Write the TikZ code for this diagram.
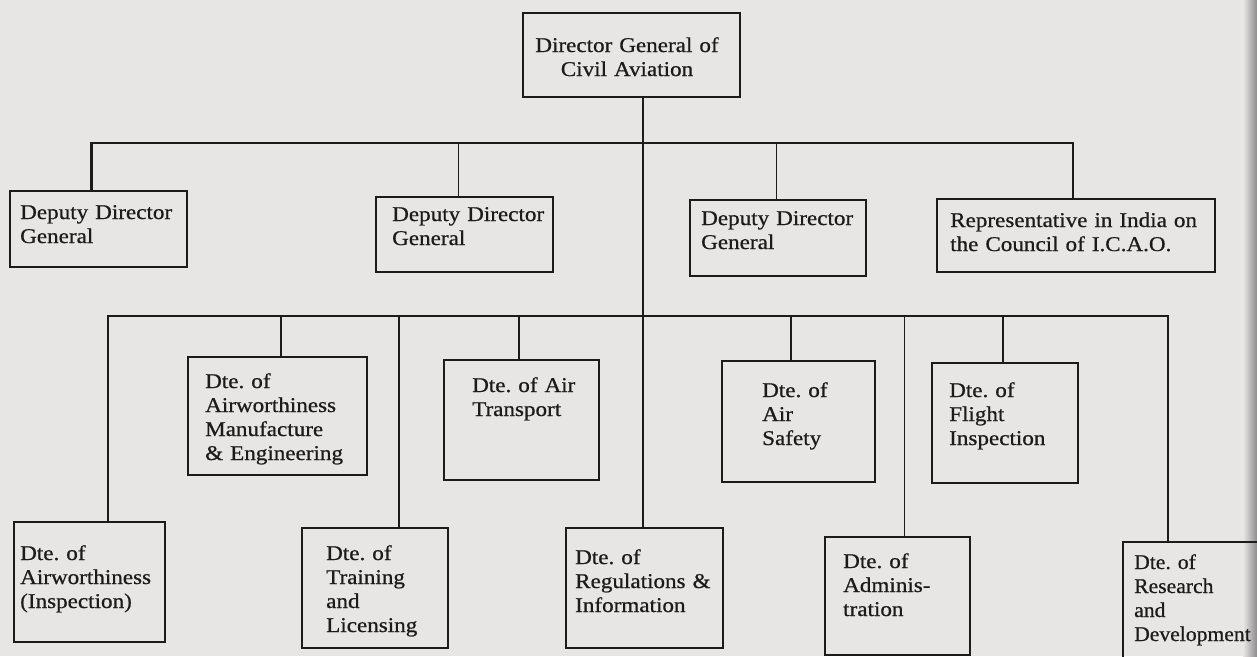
\documentclass[tikz,border=0pt]{standalone}
\usepackage{fontspec}
\setmainfont{Liberation Serif}[FakeStretch=1.1,FakeBold=0.7]
\newfontfamily\narrowserif{Liberation Serif}[FakeStretch=1.03,FakeBold=0.7]
\definecolor{paper}{RGB}{232,229,229}
\definecolor{ink}{RGB}{28,26,26}
\newcommand\orgbox[5]{\node[box,minimum width={(#4-#2)*1pt},minimum height={(#5-#3)*1pt}] (#1) at ({(#2+#4)/2},{(#3+#5)/2}) {};}
\frenchspacing
\begin{document}
\frenchspacing
\begin{tikzpicture}[x=1pt,y=-1pt,
  box/.style={draw=ink,line width=2.6pt,inner sep=0pt,outer sep=0pt,rectangle},
  txt/.style={inner sep=0pt,text=ink,text width=270pt,align=left,anchor=base west,font=\fontsize{21}{24}\selectfont},
  conn/.style={draw=ink,line width=1.8pt},
  bus/.style={draw=ink,line width=2.6pt}]
\useasboundingbox (0,0) rectangle (1257,656);
\fill[paper] (0,0) rectangle (1257,656);
\clip (0,0) rectangle (1257,656);
\shade[left color=paper,right color=black!45] (1243,0) rectangle (1257,656);

% boxes
\orgbox{dg}{523}{13}{740}{97}
\orgbox{ddgA}{10}{191}{187}{267}
\orgbox{ddgB}{376}{197}{553}{272}
\orgbox{ddgC}{690}{200}{866}{276}
\orgbox{rep}{937}{199}{1215}{272}
\orgbox{ame}{188}{357}{367}{475}
\orgbox{atr}{444}{360}{599}{480}
\orgbox{asf}{722}{361}{875}{482}
\orgbox{fli}{932}{363}{1078}{483}
\orgbox{awi}{14}{522}{165}{642}
\orgbox{trn}{302}{528}{448}{648}
\orgbox{reg}{566}{528}{723}{648}
\orgbox{adm}{825}{537}{970}{655}
\orgbox{rnd}{1123}{542}{1300}{700}

% texts
\node[txt,align=center,anchor=base] (dg-t) at (627,52) {Director General of\\Civil Aviation};
\node[txt] (ddgA-t) at (20,219) {Deputy Director\\General};
\node[txt] (ddgB-t) at (392,221) {Deputy Director\\General};
\node[txt] (ddgC-t) at (701,225) {Deputy Director\\General};
\node[txt] (rep-t) at (950,227) {Representative in India on\\the Council of I.C.A.O.};
\node[txt] (ame-t) at (205,388) {Dte. of\\Airworthiness\\Manufacture\\\& Engineering};
\node[txt] (atr-t) at (472,392) {Dte. of Air\\Transport};
\node[txt] (asf-t) at (762,397) {Dte. of\\Air\\Safety};
\node[txt] (fli-t) at (949,397) {Dte. of\\Flight\\Inspection};
\node[txt] (awi-t) at (20,560) {Dte. of\\Airworthiness\\(Inspection)};
\node[txt] (trn-t) at (326,560) {Dte. of\\Training\\and\\Licensing};
\node[txt] (reg-t) at (575,564) {Dte. of\\Regulations \&\\Information};
\node[txt] (adm-t) at (843,568) {Dte. of\\Adminis-\\tration};
\node[txt,font=\narrowserif\fontsize{21}{24}\selectfont] (rnd-t) at (1134,569) {Dte. of\\Research\\and\\Development};

% connectors
\coordinate (b1) at (0,143);
\coordinate (b2) at (0,316);
\draw[bus] ([xshift=-7pt]ddgA.north) |- ([xshift=-3pt]rep.north |- b1) -- ([xshift=-3pt]rep.north);
\draw[conn] ([xshift=-6pt]ddgB.north) -- ([xshift=-6pt]ddgB.north |- b1);
\draw[conn] ([xshift=-1.5pt]ddgC.north) -- ([xshift=-1.5pt]ddgC.north |- b1);
\draw[conn] ([xshift=-1.5pt]reg.north) -- ([xshift=-1.5pt]reg.north |- dg.south);
\draw[bus] ([xshift=18.5pt]awi.north) |- ([xshift=-43.5pt]rnd.north |- b2) -- ([xshift=-43.5pt]rnd.north);
\draw[conn] ([xshift=3.5pt]ame.north) -- ([xshift=3.5pt]ame.north |- b2);
\draw[conn] ([xshift=24pt]trn.north) -- ([xshift=24pt]trn.north |- b2);
\draw[conn] ([xshift=-2.5pt]atr.north) -- ([xshift=-2.5pt]atr.north |- b2);
\draw[conn] ([xshift=-7.5pt]asf.north) -- ([xshift=-7.5pt]asf.north |- b2);
\draw[conn] ([xshift=7pt]adm.north) -- ([xshift=7pt]adm.north |- b2);
\draw[conn] ([xshift=-2pt]fli.north) -- ([xshift=-2pt]fli.north |- b2);
\end{tikzpicture}
\end{document}
